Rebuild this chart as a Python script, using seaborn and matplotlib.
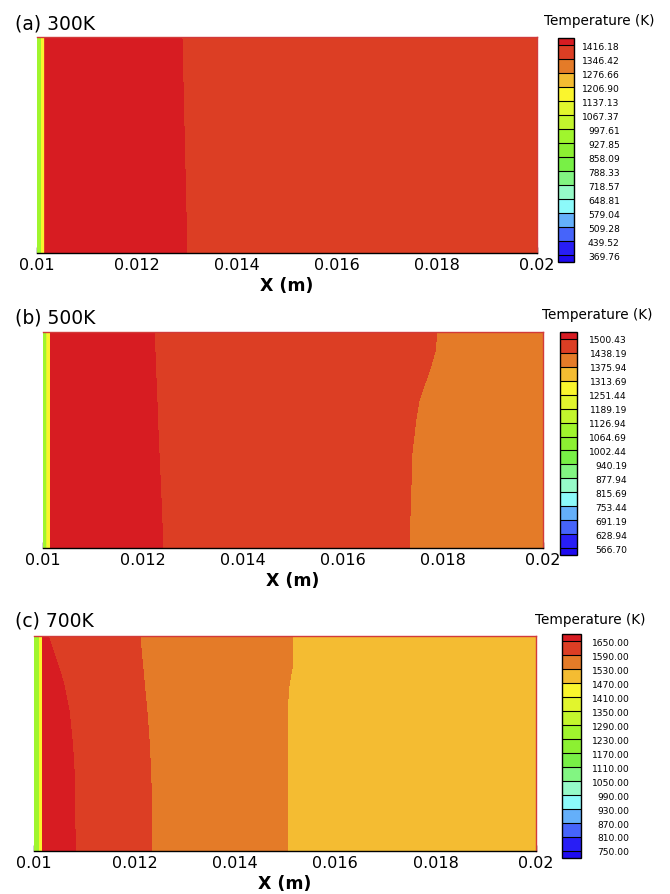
import numpy as np
import matplotlib
matplotlib.use("Agg")
import matplotlib.pyplot as plt
import seaborn as sns

sns.set_theme(style="ticks")
plt.rcParams["font.family"] = ["DejaVu Sans"]

# ---------------- data ----------------
# contour colour table, lowest (under) -> highest (over), 17 bands
band_colors = ["#1e0af0", "#281ef5", "#4664fa", "#64affa", "#8cfafa", "#96fac8",
               "#82f582", "#78f046", "#8cf032", "#a0f52d", "#c3f52d", "#e1f52d",
               "#faf52d", "#f4bc32", "#e47b28", "#dc3e24", "#d71c22"]

x_ticks = [0.01, 0.012, 0.014, 0.016, 0.018, 0.02]
x_tick_labels = ["0.01", "0.012", "0.014", "0.016", "0.018", "0.02"]

titles = ["(a) 300K", "(b) 500K", "(c) 700K"]

levels_a = [369.76, 439.52, 509.28, 579.04, 648.81, 718.57, 788.33, 858.09,
            927.85, 997.61, 1067.37, 1137.13, 1206.90, 1276.66, 1346.42, 1416.18]
levels_b = [566.70, 628.94, 691.19, 753.44, 815.69, 877.94, 940.19, 1002.44,
            1064.69, 1126.94, 1189.19, 1251.44, 1313.69, 1375.94, 1438.19, 1500.43]
levels_c = [750.0, 810.0, 870.0, 930.0, 990.0, 1050.0, 1110.0, 1170.0,
            1230.0, 1290.0, 1350.0, 1410.0, 1470.0, 1530.0, 1590.0, 1650.0]

# (a) 300K : relative heights of sample rows, wall profile, isotherm positions
rows_a = [0.0, 1.0]
wall_x_a = [0.0100, 0.01007, 0.01009, 0.01014, 0.01017]
wall_T_a = [960, 995, 1150, 1200, 1440]
iso_a = [[0.01300, 0.01290]]                      # 1416 K isotherm per row
band_T_a = [1440, 1390]

# (b) 500K
rows_b = [0.0, 0.29, 0.44, 0.60, 0.68, 0.75, 0.83, 0.91, 1.0]
wall_x_b = [0.0100, 0.01006, 0.01008, 0.01014, 0.01016]
wall_T_b = [1070, 1120, 1260, 1305, 1530]
iso_b = [[0.01240, 0.01235, 0.01232, 0.01229, 0.01228, 0.01227, 0.01225, 0.01224, 0.01222],
         [0.01732, 0.01736, 0.01738, 0.01746, 0.01752, 0.01762, 0.01774, 0.01784, 0.01788]]
band_T_b = [1530, 1470, 1406]

# (c) 700K
rows_c = [0.0, 0.33, 0.49, 0.65, 0.77, 0.85, 0.92, 1.0]
wall_x_c = [0.0100, 0.01009, 0.01011, 0.01016, 0.01018]
wall_T_c = [1235, 1285, 1415, 1465, 1680]
iso_c = [[0.01082, 0.01081, 0.01077, 0.01070, 0.01060, 0.01050, 0.01040, 0.01028],
         [0.01235, 0.01233, 0.01230, 0.01225, 0.01220, 0.01217, 0.01214, 0.01211],
         [0.01504, 0.01504, 0.01504, 0.01504, 0.01508, 0.01514, 0.01515, 0.01516]]
band_T_c = [1680, 1620, 1560, 1500]

x_end = 0.02

panels = [
    dict(rows=rows_a, wx=wall_x_a, wT=wall_T_a, iso=iso_a, bT=band_T_a, lev=levels_a,
         ax=[37, 38, 537, 254], cb=[558, 39, 574, 263], pad=33, ttl_y=24, cbt_y=21, cbt_x=599),
    dict(rows=rows_b, wx=wall_x_b, wT=wall_T_b, iso=iso_b, bT=band_T_b, lev=levels_b,
         ax=[43, 333, 543, 549], cb=[560, 333, 577, 556], pad=36, ttl_y=318, cbt_y=315, cbt_x=597),
    dict(rows=rows_c, wx=wall_x_c, wT=wall_T_c, iso=iso_c, bT=band_T_c, lev=levels_c,
         ax=[34, 637, 536, 852], cb=[562, 635, 581, 859], pad=35, ttl_y=621, cbt_y=620, cbt_x=590),
]

W, H = 670, 895
fig = plt.figure(figsize=(W / 100, H / 100), dpi=100)


def frac_box(b):
    x0, y0, x1, y1 = b
    return [x0 / W, 1 - y1 / H, (x1 - x0) / W, (y1 - y0) / H]


d = 0.00002
for i, p in enumerate(panels):
    # build the sample grid from the read profile values
    Xr, Tr = [], []
    for r in range(len(p["rows"])):
        xs = list(p["wx"])
        ts = list(p["wT"])
        for k, iso in enumerate(p["iso"]):
            xs += [iso[r] - d, iso[r] + d]
            ts += [p["bT"][k], p["bT"][k + 1]]
        xs.append(x_end)
        ts.append(p["bT"][-1])
        Xr.append(xs)
        Tr.append(ts)
    X = np.array(Xr)
    T = np.array(Tr, dtype=float)
    Y = np.repeat(np.array(p["rows"])[:, None], X.shape[1], axis=1)

    ax = fig.add_axes(frac_box(p["ax"]))
    cs = ax.contourf(X, Y, T, levels=p["lev"], colors=band_colors, extend="both",
                     antialiased=False)
    ax.set_xlim(0.01, 0.02)
    ax.set_ylim(0, 1)
    ax.set_yticks([])
    ax.set_xticks(x_ticks, x_tick_labels)
    ax.xaxis.set_minor_locator(matplotlib.ticker.MultipleLocator(0.0005))
    ax.tick_params(axis="x", which="major", direction="in", length=4, width=1,
                   labelsize=11.5, pad=3, color="black", labelcolor="black")
    ax.tick_params(axis="x", which="minor", direction="in", length=2.5, width=1,
                   color="black")
    for s in ["top", "right"]:
        ax.spines[s].set_color("#d23a3a")
        ax.spines[s].set_linewidth(1.0)
    ax.spines["left"].set_visible(False)
    ax.spines["bottom"].set_color("black")
    ax.spines["bottom"].set_linewidth(1.0)
    ax.set_xlabel("X (m)", fontsize=12.5, fontweight="bold", labelpad=3, color="black")

    fig.text(15 / W, 1 - p["ttl_y"] / H, titles[i], fontsize=13.5, ha="left",
             va="center", color="black")

    cax = fig.add_axes(frac_box(p["cb"]))
    cb = fig.colorbar(cs, cax=cax, extendfrac=1 / 30, extendrect=True, drawedges=True)
    cb.outline.set_edgecolor("black")
    cb.outline.set_linewidth(1.0)
    cb.dividers.set_color("black")
    cb.dividers.set_linewidth(0.8)
    cb.minorticks_off()
    cb.set_ticks(p["lev"], labels=[f"{v:.2f}" for v in p["lev"]], ha="right")
    cb.ax.tick_params(length=0, labelsize=6.6, pad=p["pad"], labelcolor="black")
    fig.text(p["cbt_x"] / W, 1 - p["cbt_y"] / H, "Temperature (K)", fontsize=9.8,
             ha="center", va="center", color="black")

fig.savefig("out.png", dpi=100)
